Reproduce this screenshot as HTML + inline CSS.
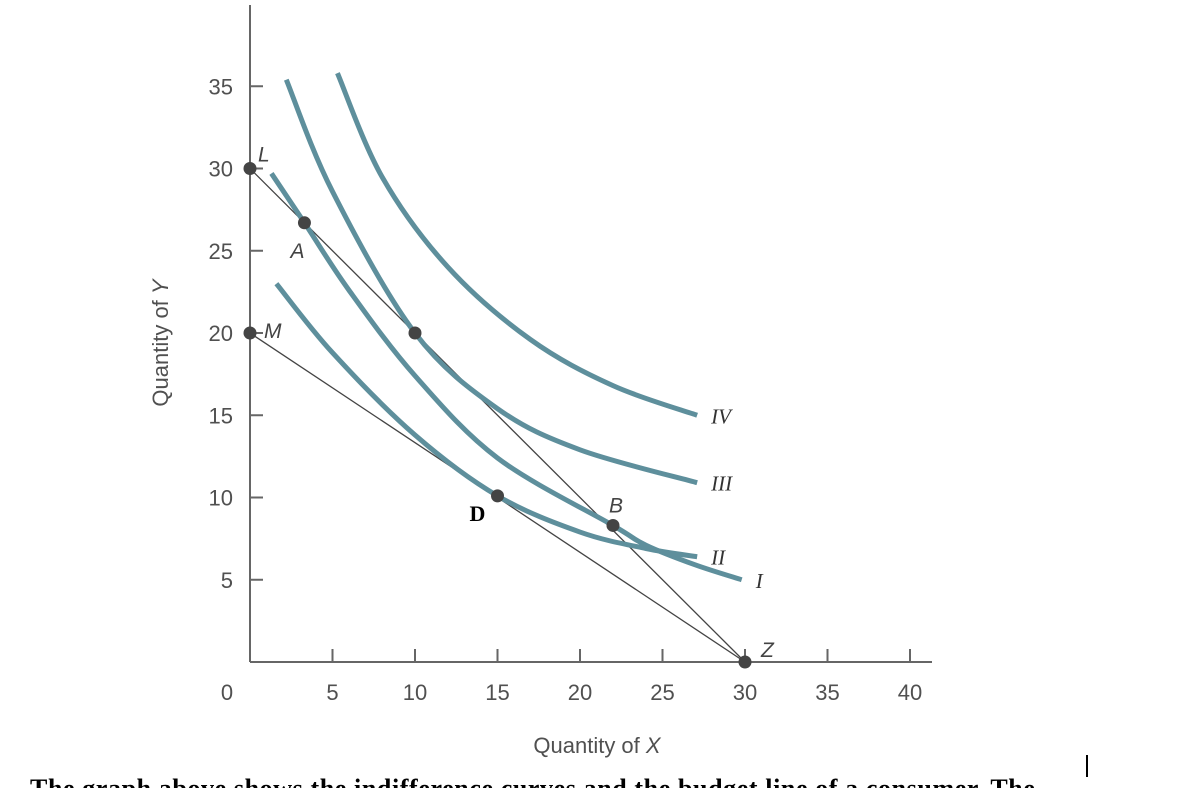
<!DOCTYPE html>
<html style="overflow:hidden;height:788px"><head><meta charset="utf-8"><style>
body{margin:0;background:#fff;width:1198px;height:788px;overflow:hidden;position:relative}
svg{position:absolute;left:0;top:0}
.t{font-family:"Liberation Sans",sans-serif;font-size:22px;fill:#505050}
.lbl{font-family:"Liberation Sans",sans-serif;font-size:21px;fill:#444;font-style:italic}
.rom{font-family:"Liberation Serif",serif;font-size:21px;fill:#333;font-style:italic}
#bottom{position:absolute;left:30px;top:774px;font-family:"Liberation Serif",serif;font-size:26px;letter-spacing:0.6px;font-weight:bold;color:#000;white-space:nowrap}
</style></head><body>
<svg id="chart" width="1198" height="788"></svg>
<div id="bottom">The graph above shows the indifference curves and the budget line of a consumer. The</div>
<div style="position:absolute;left:1086px;top:755px;width:2px;height:22px;background:#000"></div>
<script>
const xTicks=[5,10,15,20,25,30,35,40];
const yTicks=[5,10,15,20,25,30,35];
const curveI=[[1.3,29.7],[3.3,26.7],[6,22.6],[10,17.4],[15,12.4],[22,8.3],[24,7.1],[27,5.9],[29.8,5.0]];
const curveII=[[1.6,23],[5,18.8],[10,13.8],[15,10.1],[20,7.9],[24,6.9],[27.1,6.4]];
const curveIII=[[2.2,35.4],[5,28.6],[10,20],[15,15.4],[20,12.9],[27.1,10.9]];
const curveIV=[[5.3,35.8],[8,29.5],[12,24],[17,19.6],[22,16.8],[27.1,15]];
const curveNames=["I","II","III","IV"];
const budgetLines=[[[0,30],[30,0]],[[0,20],[30,0]]];
const points=[["L",0,30],["A",3.3,26.7],["",10,20],["M",0,20],["D",15,10.1],["B",22,8.3],["Z",30,0]];
const X=v=>250+v*16.5, Y=v=>662-v*16.45;
const svg=document.getElementById('chart');const NS="http://www.w3.org/2000/svg";
function el(tag,at,p){const e=document.createElementNS(NS,tag);for(const k in at)e.setAttribute(k,at[k]);(p||svg).appendChild(e);return e;}
let a=el('line',{x1:250,y1:5,x2:250,y2:662,stroke:'#666','stroke-width':2});

a=el('line',{x1:250,y1:662,x2:932,y2:662,stroke:'#666','stroke-width':2});

xTicks.forEach(v=>{let t=el('line',{x1:X(v),y1:649,x2:X(v),y2:662,stroke:'#666','stroke-width':2});

let s=el('text',{x:X(v),y:700,'text-anchor':'middle',class:'t'});s.textContent=v;
});
yTicks.forEach(v=>{let t=el('line',{x1:250,y1:Y(v),x2:263,y2:Y(v),stroke:'#666','stroke-width':2});

let s=el('text',{x:233,y:Y(v)+8,'text-anchor':'end',class:'t'});s.textContent=v;
});
let z=el('text',{x:227,y:700,'text-anchor':'middle',class:'t'});z.textContent='0';

let xt=el('text',{x:597,y:753,'text-anchor':'middle',class:'t'});xt.innerHTML='Quantity of <tspan font-style="italic">X</tspan>';

let yt=el('text',{x:0,y:0,'text-anchor':'middle',class:'t',transform:'translate(168,343) rotate(-90)'});yt.innerHTML='Quantity of <tspan font-style="italic">Y</tspan>';

budgetLines.forEach((b,i)=>{let l=el('line',{x1:X(b[0][0]),y1:Y(b[0][1]),x2:X(b[1][0]),y2:Y(b[1][1]),stroke:'#444','stroke-width':1.3});
});
function smooth(pts){const p=pts.map(q=>[X(q[0]),Y(q[1])]);let d='M'+p[0][0]+','+p[0][1];
for(let i=0;i<p.length-1;i++){const p0=p[i-1]||p[i],p1=p[i],p2=p[i+1],p3=p[i+2]||p2;
d+=` C${p1[0]+(p2[0]-p0[0])/6},${p1[1]+(p2[1]-p0[1])/6} ${p2[0]-(p3[0]-p1[0])/6},${p2[1]-(p3[1]-p1[1])/6} ${p2[0]},${p2[1]}`;}return d;}
[curveI,curveII,curveIII,curveIV].forEach((c,i)=>{let p=el('path',{d:smooth(c),fill:'none',stroke:'#5e8f9c','stroke-width':5});

const e=c[c.length-1];let t=el('text',{x:X(e[0])+14,y:Y(e[1])+8,class:'rom'});t.textContent=curveNames[i];
});
const off={L:[8,-14],A:[-14,28],M:[14,-2],D:[-28,18],B:[-4,-20],Z:[16,-12]};
points.forEach(p=>{let c=el('circle',{cx:X(p[1]),cy:Y(p[2]),r:6.5,fill:'#444'});

if(p[0]){const o=off[p[0]];let t=el('text',{x:X(p[1])+o[0],y:Y(p[2])+o[1]+7,class:p[0]=='D'?'':'lbl'});
if(p[0]=='D'){t.setAttribute('style','font-family:"Liberation Serif",serif;font-size:22px;font-weight:bold;fill:#000');}
t.textContent=p[0];}});
</script>
</body></html>
